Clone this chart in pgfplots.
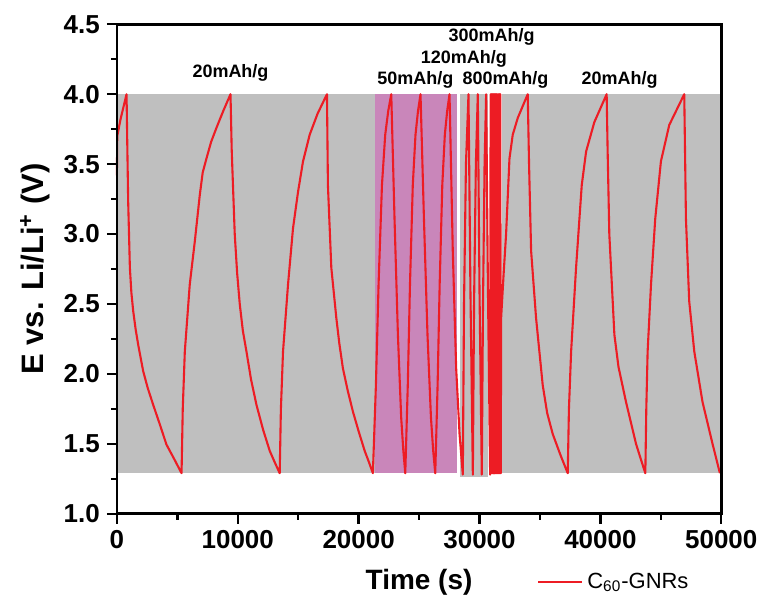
\documentclass[border=0pt]{standalone}
\usepackage{fontspec}
\setmainfont{Liberation Sans}
\usepackage{pgfplots}
\pgfplotsset{compat=1.18}
\definecolor{cred}{RGB}{237,28,36}
\definecolor{cgray}{RGB}{191,191,191}
\definecolor{cpink}{RGB}{201,134,186}
\begin{document}
\begin{tikzpicture}
\begin{axis}[
  scale only axis, width=302.5pt, height=245pt,
  xmin=0, xmax=50000, ymin=1, ymax=4.5,
  xtick={0,10000,20000,30000,40000,50000},
  ytick={1,1.5,2,2.5,3,3.5,4,4.5},
  minor x tick num=1, minor y tick num=1,
  xtick pos=bottom, ytick pos=left, tick align=outside,
  major tick length=5pt, minor tick length=3pt,
  every tick/.style={black, line width=1.2pt},
  axis line style={line width=1.3pt},
  axis on top, clip=false,
  scaled x ticks=false,
  xticklabel style={/pgf/number format/.cd, fixed, precision=0, 1000 sep={}},
  yticklabel style={/pgf/number format/.cd, fixed, fixed zerofill, precision=1},
  /pgf/number format/assume math mode=true,
  tick label style={font=\fontsize{13}{15}\selectfont\bfseries},
  xlabel={Time (s)}, ylabel={E vs. Li/Li\textsuperscript{+} (V)},
  xlabel style={font=\fontsize{14}{16}\selectfont\bfseries, at={(axis description cs:0.5,-0.14)}, anchor=center},
  ylabel style={font=\fontsize{15.5}{17}\selectfont\bfseries, at={(axis description cs:-0.1355,0.5)}, anchor=center},
  legend style={at={(axis description cs:0.695,-0.14)}, anchor=west, draw=none, fill=none,
    font=\fontsize{11}{13}\selectfont, inner sep=0pt},
  legend image code/.code={\draw[#1] (0pt,0pt) -- (22pt,0pt);},
]
% background regions
\addplot[fill=cgray, draw=none, forget plot] coordinates {(0,1.29) (21320,1.29) (21320,4.0) (0,4.0)};
\addplot[fill=cpink, draw=none, forget plot] coordinates {(21360,1.29) (28150,1.29) (28150,4.0) (21360,4.0)};
\addplot[fill=cgray, draw=none, forget plot] coordinates {(28350,1.265) (30740,1.265) (30740,4.0) (28350,4.0)};
\addplot[fill=cgray, draw=none, forget plot] coordinates {(31900,1.29) (50000,1.29) (50000,4.0) (31900,4.0)};
% charge-discharge curve
\addplot[cred, line width=1.05pt, line join=round] coordinates {
(0,3.42) (30,3.70) (300,3.82) (800,4.0)
(850,3.70) (935,3.23) (1075,2.76) (1200,2.58) (1350,2.45) (1550,2.32) (1760,2.21) (2175,2.02) (2550,1.90) (3000,1.78) (3550,1.64) (4100,1.495) (4750,1.39) (5350,1.29)
(5450,1.75) (5620,2.16) (6030,2.64) (6450,2.95) (6860,3.28) (7100,3.44) (7410,3.54) (7800,3.66) (8240,3.76) (8800,3.88) (9400,4.0)
(9500,3.6) (9750,3.0) (9950,2.72) (10165,2.5) (10420,2.31) (10720,2.16) (11100,1.96) (11545,1.78) (12100,1.60) (12645,1.45) (13050,1.37) (13470,1.29)
(13570,1.75) (13745,2.16) (14160,2.64) (14570,3.04) (14985,3.30) (15400,3.52) (15950,3.71) (16600,3.86) (17380,4.0)
(17460,3.35) (17740,2.76) (18155,2.40) (18400,2.22) (18700,2.04) (19100,1.88) (19530,1.73) (20000,1.59) (20500,1.45) (20850,1.37) (21180,1.29)
(21430,1.92) (21650,2.64) (21930,3.35) (22200,3.71) (22450,3.88) (22700,4.0)
(22970,3.11) (23250,2.28) (23520,1.69) (23700,1.45) (23860,1.29)
(24067,1.92) (24249,2.64) (24481,3.35) (24705,3.71) (24913,3.88) (25120,4.0)
(25404,3.11) (25698,2.28) (25983,1.69) (26170,1.45) (26340,1.29)
(26534,1.92) (26705,2.64) (26922,3.35) (27132,3.71) (27326,3.88) (27520,4.0)
(27790,2.88) (28070,2.04) (28350,1.57) (28620,1.28)
(28720,2.5) (28880,3.5) (29090,4.0) (29250,2.6) (29450,1.28)
(29550,2.5) (29700,3.5) (29860,4.0) (30000,2.6) (30190,1.28)
(30290,2.5) (30420,3.5) (30550,4.0) (30700,2.6) (30880,1.28)
(30920,4.0) (30960,1.29) (31000,4.0) (31040,1.29) (31080,4.0) (31120,1.29)
(31160,4.0) (31200,1.29) (31240,4.0) (31280,1.29) (31320,4.0) (31360,1.29)
(31400,4.0) (31440,1.29) (31480,4.0) (31520,1.29) (31560,4.0) (31600,1.29)
(31640,4.0) (31680,1.29) (31720,4.0) (31760,1.29)
(31790,2.40) (32000,2.72) (32200,3.0) (32480,3.54) (32750,3.71) (33165,3.83) (33990,4.0)
(34100,3.5) (34270,2.88) (34680,2.40) (35230,1.92) (35600,1.72) (36060,1.57) (36700,1.42) (37300,1.29)
(37400,1.75) (37580,2.16) (37990,2.76) (38460,3.35) (38820,3.59) (39500,3.80) (40520,4.0)
(40600,3.6) (40740,3.0) (41160,2.28) (41500,2.05) (42120,1.80) (42950,1.50) (43350,1.39) (43720,1.29)
(43800,1.75) (43910,2.16) (44190,2.64) (44540,3.11) (45010,3.52) (45700,3.78) (46940,4.0)
(47080,3.11) (47350,2.52) (47770,2.16) (48450,1.80) (49280,1.50) (49600,1.39) (49890,1.29)
};
\addlegendentry{C\textsubscript{60}-GNRs}
% rate labels
\begin{scope}[every node/.style={font=\fontsize{9}{11}\selectfont\bfseries}]
\node at (axis cs:9400,4.15) {20mAh/g};
\node at (axis cs:24700,4.10) {50mAh/g};
\node at (axis cs:28700,4.25) {120mAh/g};
\node at (axis cs:31000,4.41) {300mAh/g};
\node at (axis cs:32150,4.10) {800mAh/g};
\node at (axis cs:41600,4.10) {20mAh/g};
\end{scope}
% page extent
\path (rel axis cs:-0.1934,-0.1912) rectangle (rel axis cs:1.0694,1.0496);
\end{axis}
\end{tikzpicture}
\end{document}
